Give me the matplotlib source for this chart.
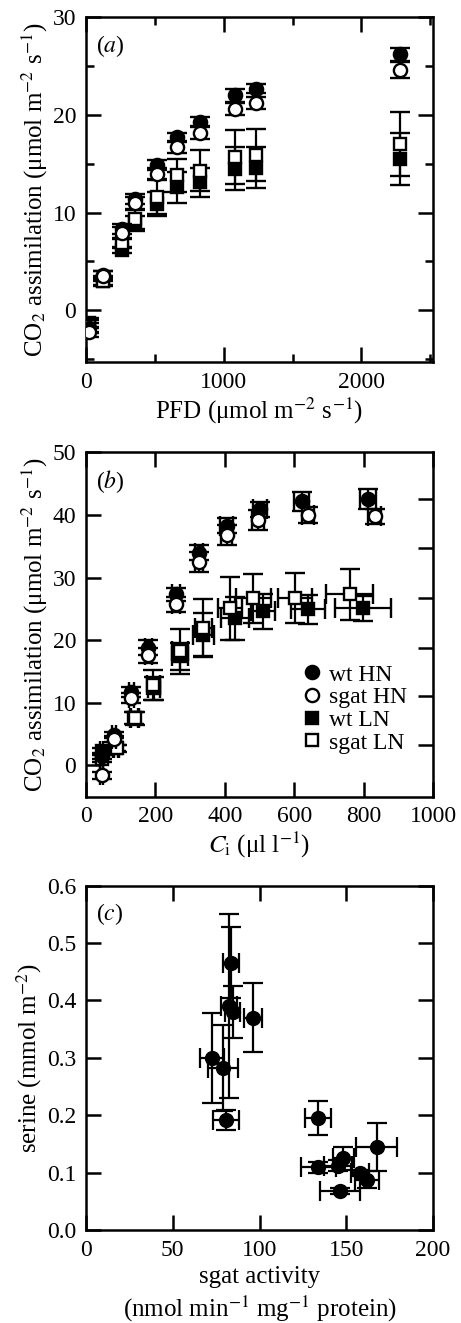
import matplotlib
matplotlib.use("Agg")
import matplotlib.pyplot as plt
from matplotlib.ticker import MultipleLocator

plt.rcParams['font.family'] = ['Liberation Serif', 'STIXGeneral', 'DejaVu Serif']
plt.rcParams['mathtext.fontset'] = 'stix'

# panel (a): light response
pfd = [25, 126, 264, 356, 513, 658, 827, 1081, 1234, 2279]
a_wt_hn = [-1.8, 3.6, 8.3, 11.4, 14.9, 17.7, 19.3, 22.0, 22.7, 26.2]
a_wt_hn_err = [0.5, 0.4, 0.5, 0.5, 0.5, 0.5, 0.5, 0.7, 0.5, 0.7]
a_sg_hn = [-2.2, 3.5, 7.9, 11.0, 14.0, 16.7, 18.2, 20.6, 21.2, 24.6]
a_sg_hn_err = [0.5, 0.5, 0.6, 0.6, 0.6, 0.6, 0.7, 0.6, 0.6, 0.8]
a_wt_ln = [-1.3, 3.0, 6.2, 8.9, 10.9, 12.6, 13.1, 14.5, 14.6, 15.5]
a_wt_ln_err = [0.5, 0.4, 0.3, 0.8, 1.2, 1.6, 1.5, 2.2, 2.1, 2.7]
a_sg_ln = [-1.6, 3.0, 6.9, 9.3, 11.6, 13.8, 14.3, 15.7, 15.9, 17.0]
a_sg_ln_err = [0.6, 0.5, 0.5, 1.0, 1.7, 1.7, 2.1, 2.8, 2.7, 3.3]

# panel (b): CO2 response
b_ci_wt_hn = [45, 80, 131, 179, 259, 326, 405, 501, 621, 813]
b_wt_hn = [1.5, 4.8, 11.8, 18.8, 27.3, 34.0, 38.3, 40.9, 42.2, 42.5]
b_wt_hn_yerr = [0.5, 0.5, 0.8, 1.2, 1.1, 1.2, 1.2, 1.2, 1.5, 1.6]
b_wt_hn_xerr = [4, 5, 8, 10, 12, 12, 18, 20, 22, 24]
b_ci_sg_hn = [45, 80, 131, 179, 259, 326, 405, 496, 640, 832]
b_sg_hn = [-1.6, 4.2, 10.8, 17.6, 25.7, 32.5, 36.8, 39.2, 40.0, 39.8]
b_sg_hn_yerr = [0.5, 0.5, 0.8, 1.2, 1.2, 1.6, 1.6, 1.6, 1.3, 1.2]
b_sg_hn_xerr = [4, 5, 8, 10, 12, 12, 15, 18, 18, 18]
b_ci_wt_ln = [45, 85, 139, 196, 271, 338, 429, 511, 640, 798]
b_wt_ln = [2.3, 2.8, 7.6, 12.3, 17.4, 20.9, 23.5, 24.6, 24.9, 25.1]
b_wt_ln_yerr = [0.5, 0.5, 1.0, 1.8, 2.2, 3.4, 3.4, 2.8, 2.3, 2.0]
b_wt_ln_xerr = [5, 8, 12, 18, 22, 30, 40, 35, 48, 80]
b_ci_sg_ln = [45, 88, 141, 194, 271, 338, 415, 482, 602, 760]
b_sg_ln = [1.1, 2.7, 7.5, 12.8, 18.2, 21.9, 25.1, 26.7, 26.7, 27.3]
b_sg_ln_yerr = [0.5, 0.5, 1.1, 2.4, 3.6, 4.6, 5.0, 3.9, 4.0, 4.1]
b_sg_ln_xerr = [5, 8, 12, 18, 22, 25, 35, 50, 50, 67]

# panel (c): serine vs sgat activity
c_act = [83.5, 82.5, 84.5, 96.4, 72.7, 79.0, 80.4,
         133.9, 167.5, 133.9, 148.3, 145.4, 157.9, 162.1, 146.4]
c_act_err = [4.5, 4.5, 4.5, 5.3, 7.0, 8.5, 7.5,
             7.4, 12.0, 10.0, 6.0, 8.0, 5.0, 7.0, 11.7]
c_ser = [0.466, 0.390, 0.380, 0.370, 0.300, 0.282, 0.192,
         0.195, 0.144, 0.109, 0.125, 0.112, 0.099, 0.088, 0.068]
c_ser_err = [0.062, 0.160, 0.045, 0.060, 0.078, 0.075, 0.017,
             0.030, 0.042, 0.010, 0.020, 0.010, 0.005, 0.015, 0.005]

FS = 17      # tick labels
LFS = 18     # axis labels
LW = 1.8
ekw = dict(ecolor='black', elinewidth=1.6, capsize=7, capthick=1.6)


def style(ax):
    for s in ax.spines.values():
        s.set_linewidth(LW)
    ax.tick_params(which='major', direction='in', length=11, width=LW,
                   top=True, right=True, labelsize=FS, pad=7)
    ax.tick_params(which='minor', direction='in', length=5.5, width=LW,
                   top=True, right=True)


def series(ax, x, y, yerr, filled, marker, ms, xerr=None, label=None, z=3):
    fc = 'black' if filled else 'white'
    ax.errorbar(x, y, yerr=yerr, xerr=xerr, fmt=marker, ms=ms, mfc=fc,
                mec='black', mew=1.7, label=label, zorder=z, **ekw)


fig = plt.figure(figsize=(4.61, 13.23), dpi=100)

# (a)
ax1 = fig.add_axes([0.1866, 0.7264, 0.7527, 0.2605])
series(ax1, pfd, a_wt_ln, a_wt_ln_err, True, 's', 8.5, z=3)
series(ax1, pfd, a_sg_ln, a_sg_ln_err, False, 's', 8.5, z=4)
series(ax1, pfd, a_wt_hn, a_wt_hn_err, True, 'o', 9.5, z=5)
series(ax1, pfd, a_sg_hn, a_sg_hn_err, False, 'o', 9.5, z=6)
ax1.set_xlim(0, 2520)
ax1.set_ylim(-5.3, 30)
ax1.set_xticks([0, 1000, 2000])
ax1.xaxis.set_minor_locator(MultipleLocator(500))
ax1.set_yticks([0, 10, 20, 30])
ax1.yaxis.set_minor_locator(MultipleLocator(5))
style(ax1)
ax1.set_xlabel('PFD (\u03bcmol m$^{-2}$ s$^{-1}$)', fontsize=LFS, labelpad=2)
ax1.set_ylabel('CO$_2$ assimilation (\u03bcmol m$^{-2}$ s$^{-1}$)', fontsize=LFS, labelpad=2)
ax1.text(0.03, 0.955, '($\\mathit{a}$)', transform=ax1.transAxes, fontsize=FS, va='top')

# (b)
ax2 = fig.add_axes([0.1866, 0.3978, 0.7527, 0.2603])
series(ax2, b_ci_wt_hn, b_wt_hn, b_wt_hn_yerr, True, 'o', 9.5, xerr=b_wt_hn_xerr, label='wt HN', z=5)
series(ax2, b_ci_sg_hn, b_sg_hn, b_sg_hn_yerr, False, 'o', 9.5, xerr=b_sg_hn_xerr, label='sgat HN', z=6)
series(ax2, b_ci_wt_ln, b_wt_ln, b_wt_ln_yerr, True, 's', 8.5, xerr=b_wt_ln_xerr, label='wt LN', z=3)
series(ax2, b_ci_sg_ln, b_sg_ln, b_sg_ln_yerr, False, 's', 8.5, xerr=b_sg_ln_xerr, label='sgat LN', z=4)
ax2.set_xlim(0, 1000)
ax2.set_ylim(-5, 50)
ax2.set_xticks([0, 200, 400, 600, 800, 1000])
ax2.set_yticks([0, 10, 20, 30, 40, 50])
style(ax2)
ax2.tick_params(right=False)
ax2r = ax2.twinx()
ax2r.set_ylim(-5, 50)
ax2r.set_yticks([3.3, 11.1, 18.8, 26.7, 34.8, 42.5])
ax2r.set_yticklabels([])
ax2r.tick_params(direction='in', length=11, width=LW)
ax2.set_xlabel('$C_{\\rm i}$ (\u03bcl l$^{-1}$)', fontsize=LFS, labelpad=2)
ax2.set_ylabel('CO$_2$ assimilation (\u03bcmol m$^{-2}$ s$^{-1}$)', fontsize=LFS, labelpad=2)
ax2.text(0.03, 0.955, '($\\mathit{b}$)', transform=ax2.transAxes, fontsize=FS, va='top')
h, l = ax2.get_legend_handles_labels()
h = [x[0] for x in h]
ax2.legend(h, l, loc='lower right', bbox_to_anchor=(0.925, 0.125), frameon=False,
           fontsize=FS, handlelength=0.8, handletextpad=0.3, labelspacing=0.05,
           borderpad=0, borderaxespad=0)

# (c)
ax3 = fig.add_axes([0.1866, 0.0703, 0.7527, 0.2602])
ax3.errorbar(c_act, c_ser, yerr=c_ser_err, xerr=c_act_err, fmt='o', ms=10,
             mfc='black', mec='black', **ekw)
ax3.set_xlim(0, 200)
ax3.set_ylim(0, 0.6)
ax3.set_xticks([0, 50, 100, 150, 200])
ax3.set_yticks([0, 0.1, 0.2, 0.3, 0.4, 0.5, 0.6])
ax3.set_yticklabels(['0.0', '0.1', '0.2', '0.3', '0.4', '0.5', '0.6'])
style(ax3)
ax3.set_xlabel('sgat activity\n(nmol min$^{-1}$ mg$^{-1}$ protein)', fontsize=LFS, labelpad=4,
               linespacing=1.25)
ax3.set_ylabel('serine (mmol m$^{-2}$)', fontsize=LFS, labelpad=2)
ax3.text(0.03, 0.955, '($\\mathit{c}$)', transform=ax3.transAxes, fontsize=FS, va='top')

fig.savefig('out.png', dpi=100)
